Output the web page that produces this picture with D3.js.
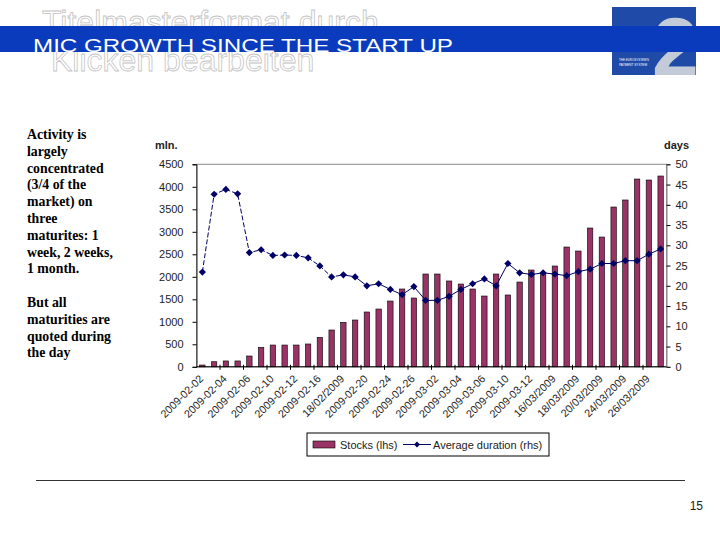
<!DOCTYPE html>
<html>
<head>
<meta charset="utf-8">
<script src="https://cdn.jsdelivr.net/npm/d3@7"></script>
<style>
  body { margin: 0; background: #fff; }
  svg { display: block; }
</style>
</head>
<body>
<div id="my_plot"></div>
<script>
var width = 720, height = 540;

// trading days, Feb-Mar 2009
var dates = [
  "2009-02-02", "2009-02-03", "2009-02-04", "2009-02-05", "2009-02-06",
  "2009-02-09", "2009-02-10", "2009-02-11", "2009-02-12", "2009-02-13",
  "2009-02-16", "2009-02-17", "18/02/2009", "2009-02-19", "2009-02-20",
  "2009-02-23", "2009-02-24", "2009-02-25", "2009-02-26", "2009-02-27",
  "2009-03-02", "2009-03-03", "2009-03-04", "2009-03-05", "2009-03-06",
  "2009-03-09", "2009-03-10", "2009-03-11", "2009-03-12", "2009-03-13",
  "16/03/2009", "17/03/2009", "18/03/2009", "19/03/2009", "20/03/2009",
  "23/03/2009", "24/03/2009", "25/03/2009", "26/03/2009", "27/03/2009"
];
// stocks, mln (lhs)
var stocks = [
  40, 113, 130, 130, 240, 433, 484, 484, 484, 507,
  655, 818, 989, 1040, 1218, 1284, 1462, 1729, 1529, 2062,
  2062, 1907, 1840, 1729, 1573, 2062, 1596, 1884, 2151, 2080,
  2240, 2662, 2573, 3084, 2884, 3551, 3707, 4173, 4151, 4240
];
// average duration, days (rhs)
var duration = [
  23.4, 42.6, 43.8, 42.7, 28.2, 28.9, 27.5, 27.6, 27.5, 26.9,
  24.9, 22.2, 22.7, 22.2, 20.0, 20.5, 19.1, 17.8, 19.8, 16.4,
  16.4, 17.4, 19.1, 20.5, 21.7, 20.0, 25.5, 23.2, 22.8, 23.2,
  22.9, 22.5, 23.5, 24.1, 25.5, 25.5, 26.2, 26.2, 27.8, 29.1
];
var leftTicks = [0, 500, 1000, 1500, 2000, 2500, 3000, 3500, 4000, 4500];
var rightTicks = [0, 5, 10, 15, 20, 25, 30, 35, 40, 45, 50];
var noteLines = [
  "Activity is", "largely", "concentrated", "(3/4 of the", "market) on",
  "three", "maturites: 1", "week, 2 weeks,", "1 month.", "",
  "But all", "maturities are", "quoted during", "the day"
];

var barColor = "#993366", lineColor = "#000066";

var svg = d3.select("#my_plot")
  .append("svg")
    .attr("width", width)
    .attr("height", height)
    .style("font-family", "Arial, 'Liberation Sans', sans-serif");

// ---- header ----
var ghost = svg.append("g")
  .style("font-size", "32px")
  .attr("fill", "#fff")
  .attr("stroke", "#c4c4c4")
  .attr("stroke-width", 0.8);
ghost.append("text").attr("x", 42).attr("y", 33).text("Titelmasterformat durch");
ghost.append("text").attr("x", 51).attr("y", 71).text("Klicken bearbeiten");

// logo
svg.append("clipPath").attr("id", "logoclip")
  .append("rect").attr("x", 612).attr("y", 7).attr("width", 84).attr("height", 68);
svg.append("rect")
  .attr("x", 612).attr("y", 7).attr("width", 84).attr("height", 68)
  .attr("fill", "#1f4aa8");
svg.append("text")
  .attr("clip-path", "url(#logoclip)")
  .attr("x", 652).attr("y", 76)
  .attr("fill", "#c3cbd8")
  .style("font-size", "84px")
  .style("font-weight", "bold")
  .text("2");
svg.append("text").attr("x", 619).attr("y", 61)
  .attr("textLength", 30).attr("lengthAdjust", "spacingAndGlyphs")
  .attr("fill", "#fff").style("font-size", "3.5px").text("THE EUROSYSTEM'S");
svg.append("text").attr("x", 619).attr("y", 66)
  .attr("textLength", 28).attr("lengthAdjust", "spacingAndGlyphs")
  .attr("fill", "#fff").style("font-size", "3.5px").text("PAYMENT SYSTEM");

// blue band
svg.append("rect")
  .attr("x", 0).attr("y", 26).attr("width", width).attr("height", 26)
  .attr("fill", "#0b3bbd");
svg.append("text")
  .attr("x", 33).attr("y", 52)
  .attr("fill", "#fff")
  .attr("textLength", 420)
  .attr("lengthAdjust", "spacingAndGlyphs")
  .style("font-size", "19px")
  .text("MIC GROWTH SINCE THE START UP");

// ---- side note ----
svg.append("g")
  .style("font-family", "'Liberation Serif', 'Times New Roman', serif")
  .style("font-size", "13.8px")
  .style("font-weight", "bold")
  .selectAll("text")
  .data(noteLines)
  .enter()
  .append("text")
    .attr("x", 27)
    .attr("y", function(d, i) { return 139 + i * 16.8; })
    .text(function(d) { return d; });

// ---- chart ----
var plot = { left: 196.5, right: 666.5, top: 164.3, bottom: 366.8 };

var x = d3.scaleBand()
  .domain(dates)
  .range([plot.left, plot.right]);
var yL = d3.scaleLinear()
  .domain([0, 4500])
  .range([plot.bottom, plot.top]);
var yR = d3.scaleLinear()
  .domain([0, 50])
  .range([plot.bottom, plot.top]);

// plot frame
svg.append("rect")
  .attr("x", plot.left).attr("y", plot.top)
  .attr("width", plot.right - plot.left)
  .attr("height", plot.bottom - plot.top)
  .attr("fill", "none")
  .attr("stroke", "#8a8a8a");

//bars
var bw = x.bandwidth() * 0.46;
svg.append("g")
  .selectAll("rect")
  .data(stocks)
  .enter()
  .append("rect")
    .attr("x", function(d, i) { return x(dates[i]) + (x.bandwidth() - bw) / 2; })
    .attr("y", function(d) { return yL(d); })
    .attr("width", bw)
    .attr("height", function(d) { return yL(0) - yL(d); })
    .attr("fill", barColor)
    .attr("stroke", "#000")
    .attr("stroke-width", 0.6);

// Left axis
var axL = svg.append("g")
  .attr("transform", "translate(" + plot.left + ",0)")
  .call(d3.axisLeft(yL).tickValues(leftTicks).tickFormat(d3.format("d"))
    .tickSize(4).tickPadding(9));
axL.select(".domain").attr("stroke", "#222");
axL.selectAll("text").style("font-size", "11px").attr("fill", "#222");

// Right axis
var axR = svg.append("g")
  .attr("transform", "translate(" + plot.right + ",0)")
  .call(d3.axisRight(yR).tickValues(rightTicks).tickSize(4).tickPadding(5));
axR.select(".domain").attr("stroke", "#8a8a8a");
axR.selectAll("text").style("font-size", "11px").attr("fill", "#222");

// X-axis, ticks between every 2nd category
var axB = svg.append("g")
  .attr("transform", "translate(0," + plot.bottom + ")");
axB.append("line")
  .attr("x1", plot.left).attr("x2", plot.right)
  .attr("stroke", "#000");
axB.selectAll("line.tk")
  .data(dates.filter(function(d, i) { return i % 2 === 0 && i > 0; }))
  .enter()
  .append("line")
    .attr("class", "tk")
    .attr("x1", function(d) { return x(d); })
    .attr("x2", function(d) { return x(d); })
    .attr("y1", -2).attr("y2", 3)
    .attr("stroke", "#000");
axB.selectAll("text")
  .data(dates.filter(function(d, i) { return i % 2 === 0; }))
  .enter()
  .append("text")
    .attr("text-anchor", "end")
    .attr("transform", function(d) {
      return "translate(" + (x(d) + x.bandwidth() / 2 - 1) + ",10) rotate(-45)";
    })
    .attr("dy", "0.35em")
    .style("font-size", "10.8px")
    .attr("fill", "#222")
    .text(function(d) { return d; });

// axis titles
svg.append("text")
  .attr("x", 155).attr("y", 149)
  .style("font-size", "11px").style("font-weight", "bold")
  .attr("fill", "#222")
  .text("mln.");
svg.append("text")
  .attr("x", 689).attr("y", 149)
  .attr("text-anchor", "end")
  .style("font-size", "11px").style("font-weight", "bold")
  .attr("fill", "#222")
  .text("days");

// duration line
var line = d3.line()
  .x(function(d, i) { return x(dates[i]) + x.bandwidth() / 2; })
  .y(function(d) { return yR(d); });
var split = 12;
svg.append("path")
  .datum(duration.slice(0, split + 1))
  .attr("d", line)
  .attr("fill", "none")
  .attr("stroke", lineColor)
  .attr("stroke-width", 1)
  .attr("stroke-dasharray", "5,2");
svg.append("path")
  .datum(duration)
  .attr("d", function(d) {
    return d3.line()
      .x(function(v, i) { return x(dates[i]) + x.bandwidth() / 2; })
      .y(function(v) { return yR(v); })
      .defined(function(v, i) { return i >= split; })(d);
  })
  .attr("fill", "none")
  .attr("stroke", lineColor)
  .attr("stroke-width", 1);

var diamond = "M0,-3.6L3.6,0L0,3.6L-3.6,0Z";
svg.append("g")
  .selectAll("path")
  .data(duration)
  .enter()
  .append("path")
    .attr("transform", function(d, i) {
      return "translate(" + (x(dates[i]) + x.bandwidth() / 2) + "," + yR(d) + ")";
    })
    .attr("d", diamond)
    .attr("fill", lineColor);

// Legend
var lg = svg.append("g").attr("transform", "translate(307,433)");
lg.append("rect")
  .attr("width", 242).attr("height", 23)
  .attr("fill", "#fff").attr("stroke", "#000");
lg.append("rect")
  .attr("x", 6).attr("y", 8).attr("width", 22).attr("height", 7)
  .attr("fill", barColor).attr("stroke", "#000").attr("stroke-width", 0.6);
lg.append("text")
  .attr("x", 33).attr("y", 16)
  .style("font-size", "11px").attr("fill", "#222")
  .text("Stocks (lhs)");
lg.append("line")
  .attr("x1", 96).attr("x2", 124).attr("y1", 11.5).attr("y2", 11.5)
  .attr("stroke", lineColor);
lg.append("path")
  .attr("transform", "translate(110,11.5)")
  .attr("d", "M0,-3L3,0L0,3L-3,0Z")
  .attr("fill", lineColor);
lg.append("text")
  .attr("x", 126).attr("y", 16)
  .style("font-size", "11px").attr("fill", "#222")
  .text("Average duration (rhs)");

// footer
svg.append("line")
  .attr("x1", 36).attr("x2", 685).attr("y1", 480.5).attr("y2", 480.5)
  .attr("stroke", "#333");
svg.append("text")
  .attr("x", 703).attr("y", 510)
  .attr("text-anchor", "end")
  .style("font-size", "12px").attr("fill", "#222")
  .text("15");
</script>
</body>
</html>
